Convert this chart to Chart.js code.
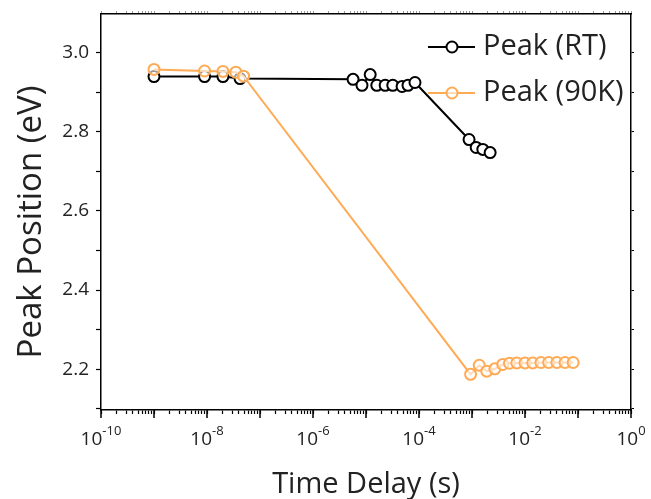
<!DOCTYPE html>
<html>
<head>
<meta charset="utf-8">
<script src="https://cdn.jsdelivr.net/npm/chart.js@4.4.1/dist/chart.umd.min.js"></script>
<style>
  body { margin: 0; background: #fff; }
  canvas { display: block; }
</style>
</head>
<body>
<canvas id="chartCanvas" width="651" height="499"></canvas>
<script>
// DATA
const rtTime = [1e-9, 9e-9, 2e-8, 4.2e-8, 5.7e-6, 8.4e-6, 1.2e-5, 1.6e-5, 2.3e-5, 3.2e-5, 4.8e-5, 6.2e-5, 8.4e-5, 8.8e-4, 1.2e-3, 1.6e-3, 2.2e-3];
const rtPeak = [2.939, 2.939, 2.939, 2.934, 2.932, 2.917, 2.944, 2.917, 2.917, 2.917, 2.914, 2.917, 2.924, 2.78, 2.76, 2.755, 2.747];

const lowTime = [1e-9, 9e-9, 2e-8, 3.5e-8, 4.9e-8, 9.4e-4, 1.37e-3, 1.9e-3, 2.7e-3, 3.8e-3, 5.1e-3, 7e-3, 1e-2, 1.4e-2, 2e-2, 2.8e-2, 4e-2, 5.7e-2, 8.1e-2];
const lowPeak = [2.957, 2.953, 2.952, 2.95, 2.94, 2.187, 2.21, 2.195, 2.201, 2.212, 2.215, 2.216, 2.216, 2.216, 2.217, 2.217, 2.217, 2.217, 2.217];

const seriesNames = ['Peak (RT)', 'Peak (90K)'];
const xExponents = [-10, -8, -6, -4, -2, 0];
const yTickLabels = [2.2, 2.4, 2.6, 2.8, 3.0];
const yTitle = 'Peak Position (eV)';

const ORANGE = 'rgb(255, 170, 85)';
const FONT = "'Open Sans', sans-serif";
const TEXT = '#222';

const toPoints = (xs, ys) => xs.map((x, i) => ({ x: x, y: ys[i] }));

// log ticks 1..9 per decade, no 1.5 ticks
function decadeTicks(scale) {
    const ticks = [];
    for (let e = -10; e < 0; e++) {
        for (let m = 1; m <= 9; m++) ticks.push({ value: m * Math.pow(10, e) });
    }
    ticks.push({ value: 1 });
    scale.ticks = ticks;
}

// minor every 0.1
function tenthTicks(scale) {
    const ticks = [];
    for (let k = 21; k <= 30; k++) ticks.push({ value: k / 10 });
    scale.ticks = ticks;
}

// keep the plot box fixed
function fixBox(size, horizontal) {
    return s => {
        if (horizontal) s.height = size; else s.width = size;
        s.paddingTop = 0;
        s.paddingBottom = 0;
        s.paddingLeft = 0;
        s.paddingRight = 0;
    };
}

// DECOR: major x ticks, superscript labels, y title, legend
const decor = {
    id: 'decor',
    afterDraw(chart) {
        const { ctx, chartArea } = chart;
        const x = chart.scales.x;
        ctx.save();

        // major ticks + labels
        ctx.strokeStyle = '#000';
        ctx.lineWidth = 1.5;
        ctx.fillStyle = TEXT;
        ctx.textBaseline = 'alphabetic';
        for (let e = -10; e <= 0; e++) {
            const px = x.getPixelForValue(Math.pow(10, e));
            ctx.beginPath();
            ctx.moveTo(px, chartArea.bottom);
            ctx.lineTo(px, chartArea.bottom + 8);
            ctx.stroke();
        }
        xExponents.forEach(e => {
            const px = x.getPixelForValue(Math.pow(10, e));
            ctx.font = '19px ' + FONT;
            const baseW = ctx.measureText('10').width;
            ctx.font = '13px ' + FONT;
            const supW = ctx.measureText(String(e)).width;
            const left = px - (baseW + supW) / 2;
            ctx.textAlign = 'left';
            ctx.font = '19px ' + FONT;
            ctx.fillText('10', left, chartArea.bottom + 35);
            ctx.font = '13px ' + FONT;
            ctx.fillText(String(e), left + baseW, chartArea.bottom + 25);
        });

        // y title, a bit below centre like the original
        ctx.save();
        ctx.translate(32, (chartArea.top + chartArea.bottom) / 2 + 10);
        ctx.rotate(-Math.PI / 2);
        ctx.font = '33px ' + FONT;
        ctx.textAlign = 'center';
        ctx.textBaseline = 'middle';
        ctx.fillStyle = TEXT;
        ctx.fillText(yTitle, 0, 0);
        ctx.restore();

        // legend
        const colors = ['#000', ORANGE];
        const fills = ['#fff', 'rgba(255,255,255,0.6)'];
        seriesNames.forEach((name, i) => {
            const ly = chartArea.top + 33 + i * 46;
            const lx = chartArea.right - 203;
            ctx.strokeStyle = colors[i];
            ctx.lineWidth = 2;
            ctx.beginPath();
            ctx.moveTo(lx, ly);
            ctx.lineTo(lx + 47, ly);
            ctx.stroke();
            ctx.beginPath();
            ctx.arc(lx + 24, ly, 5.5, 0, Math.PI * 2);
            ctx.fillStyle = fills[i];
            ctx.fill();
            ctx.stroke();
            ctx.fillStyle = TEXT;
            ctx.font = '29px ' + FONT;
            ctx.textAlign = 'left';
            ctx.textBaseline = 'middle';
            ctx.fillText(name, lx + 55, ly);
        });
        ctx.restore();
    }
};

const ctx = document.getElementById('chartCanvas').getContext('2d');

new Chart(ctx, {
    type: 'scatter',
    data: {
        datasets: [{
            label: seriesNames[0],
            data: toPoints(rtTime, rtPeak),
            showLine: true,
            borderColor: '#000',
            borderWidth: 2,
            pointRadius: 5.5,
            pointBorderWidth: 2,
            pointBackgroundColor: '#fff',
            pointBorderColor: '#000',
            order: 1
        }, {
            label: seriesNames[1],
            data: toPoints(lowTime, lowPeak),
            showLine: true,
            borderColor: ORANGE,
            borderWidth: 2,
            pointRadius: 5.5,
            pointBorderWidth: 2,
            pointBackgroundColor: 'rgba(255,255,255,0.6)',
            pointBorderColor: ORANGE,
            order: 0
        }]
    },
    options: {
        responsive: false,
        animation: false,
        layout: { padding: 0 },
        plugins: {
            legend: { display: false },
            tooltip: { enabled: false }
        },
        scales: {
            x: {
                type: 'logarithmic',
                position: 'bottom',
                min: 1e-10,
                max: 1,
                afterBuildTicks: decadeTicks,
                afterFit: fixBox(89, true),
                border: { color: '#000', width: 1.5 },
                grid: { drawOnChartArea: false, drawTicks: true, tickLength: 4, color: '#000', tickWidth: 1.2 },
                ticks: { autoSkip: false, maxRotation: 0, callback: () => '' },
                title: {
                    display: true,
                    text: 'Time Delay (s)',
                    color: TEXT,
                    font: { family: FONT, size: 29, lineHeight: 1 },
                    padding: { top: 0, bottom: 0 }
                }
            },
            x2: {
                type: 'logarithmic',
                position: 'top',
                min: 1e-10,
                max: 1,
                afterBuildTicks: decadeTicks,
                afterFit: fixBox(14, true),
                border: { color: '#000', width: 1.5 },
                grid: { drawOnChartArea: false, drawTicks: true, tickLength: 3, color: '#999', tickWidth: 1 },
                ticks: { display: false, autoSkip: false }
            },
            y: {
                type: 'linear',
                position: 'left',
                min: 2.097,
                max: 3.097,
                afterBuildTicks: tenthTicks,
                afterFit: fixBox(101, false),
                border: { color: '#000', width: 1.5 },
                grid: { drawOnChartArea: false, drawTicks: true, tickLength: 5, color: '#000', tickWidth: 1.2 },
                ticks: {
                    autoSkip: false,
                    padding: 7,
                    color: TEXT,
                    font: { family: FONT, size: 19 },
                    callback: v => (yTickLabels.some(t => Math.abs(t - v) < 1e-6) ? v.toFixed(1) : '')
                }
            },
            y2: {
                type: 'linear',
                position: 'right',
                min: 2.097,
                max: 3.097,
                afterBuildTicks: tenthTicks,
                afterFit: fixBox(20, false),
                border: { color: '#000', width: 1.5 },
                grid: { drawOnChartArea: false, drawTicks: true, tickLength: 3, color: '#000', tickWidth: 1 },
                ticks: { display: false, autoSkip: false }
            }
        }
    },
    plugins: [decor]
});
</script>
</body>
</html>
